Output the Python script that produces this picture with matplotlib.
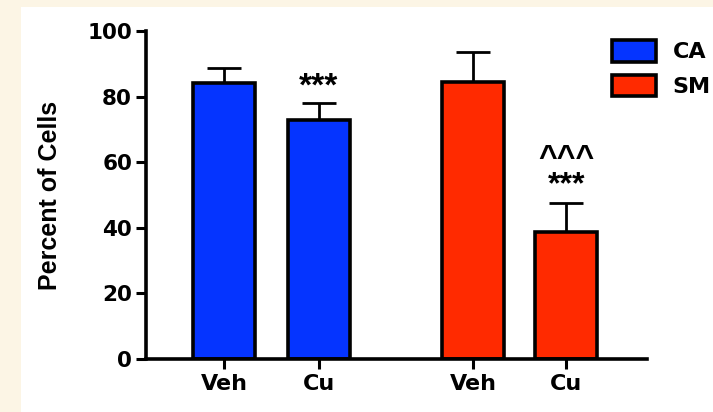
import numpy as np
import matplotlib
matplotlib.use('Agg')
import matplotlib.pyplot as plt
from matplotlib.patches import Rectangle

# values
labels = ['Veh', 'Cu', 'Veh', 'Cu']
x_pos = [0, 1, 2.62, 3.6]
means = [84.1, 72.9, 84.5, 38.7]
sems = [4.6, 5.1, 9.1, 8.9]
groups = ['CA', 'CA', 'SM', 'SM']
group_colors = {'CA': '#0534ff', 'SM': '#ff2a00'}
marks = ['', '***', '', '^^^\n***']

BOLD = 'DejaVu Sans'
ANN = 'Liberation Sans'

fig = plt.figure(figsize=(7.13, 4.12), dpi=100, facecolor='#fcf5e5')
fig.add_artist(Rectangle((21 / 713, 0), 1, 1 - 7 / 412, transform=fig.transFigure,
                         facecolor='white', edgecolor='none', zorder=-1))

ax = fig.add_axes([146 / 713, 53 / 412, 501 / 713, 328 / 412])
ax.set_facecolor('white')

colors = [group_colors[g] for g in groups]
bars = ax.bar(x_pos, means, width=0.65, color=colors, edgecolor='black',
              linewidth=2.6, zorder=2)
ax.errorbar(x_pos, means, yerr=[np.zeros(len(sems)), sems], fmt='none',
            ecolor='black', elinewidth=2, capsize=12, capthick=2, zorder=1)

# significance marks (baseline of the last line sits just above the error cap)
for x, m, s, mk in zip(x_pos, means, sems, marks):
    if not mk:
        continue
    if '\n' in mk:
        ax.text(x, m + s + 2.8, mk, ha='center', va='baseline', fontsize=23,
                fontweight='bold', family=ANN, linespacing=0.84, zorder=3)
    else:
        ax.text(x, m + s + 2.4, mk, ha='center', va='baseline', fontsize=24,
                fontweight='bold', family=ANN, zorder=3)

ax.set_xlim(-0.82, 4.45)
ax.set_ylim(0, 100)
ax.set_yticks([0, 20, 40, 60, 80, 100])
ax.set_xticks(x_pos)
ax.set_xticklabels(labels)

for sp in ['top', 'right']:
    ax.spines[sp].set_visible(False)
for sp in ['left', 'bottom']:
    ax.spines[sp].set_linewidth(2.6)

ax.tick_params(axis='y', length=7, width=2.2, pad=3, labelsize=15.5)
ax.tick_params(axis='x', length=7, width=2.2, pad=4, labelsize=16)
for t in ax.get_xticklabels() + ax.get_yticklabels():
    t.set_fontweight('bold')
    t.set_family(BOLD)

ax.set_ylabel('Percent of Cells', fontsize=18, fontweight='bold', family=ANN)
ax.yaxis.set_label_coords(-0.168, 0.5)

handles = [bars[0], bars[2]]
ax.legend(handles, ['CA', 'SM'], loc='upper left',
          bbox_to_anchor=(612 / 713, 1 - 40 / 412), bbox_transform=fig.transFigure,
          frameon=False, borderpad=0, borderaxespad=0,
          handlelength=2.0, handleheight=1.13, labelspacing=0.55, handletextpad=0.72,
          prop={'family': BOLD, 'weight': 'bold', 'size': 16})

fig.savefig('out.png', dpi=100, facecolor=fig.get_facecolor())
